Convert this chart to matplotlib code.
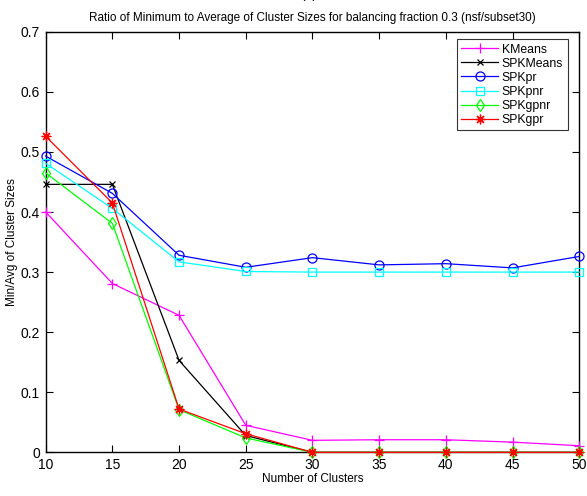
import matplotlib
matplotlib.use("Agg")
import matplotlib.pyplot as plt

plt.rcParams['font.family'] = ['Liberation Sans', 'DejaVu Sans']

clusters = [10, 15, 20, 25, 30, 35, 40, 45, 50]
kmeans = [0.400, 0.281, 0.228, 0.045, 0.020, 0.021, 0.021, 0.017, 0.011]
spkmeans = [0.446, 0.446, 0.153, 0.028, 0.0, 0.0, 0.0, 0.0, 0.0]
spkpr = [0.493, 0.431, 0.328, 0.308, 0.324, 0.312, 0.314, 0.307, 0.326]
spkpnr = [0.481, 0.406, 0.317, 0.301, 0.300, 0.300, 0.300, 0.300, 0.300]
spkgpnr = [0.465, 0.381, 0.071, 0.024, 0.0, 0.0, 0.0, 0.0, 0.0]
spkgpr = [0.526, 0.415, 0.072, 0.031, 0.0, 0.0, 0.0, 0.0, 0.0]

# asterisk: four crossing strokes
asterisk = (8, 2, 0)

series = [
    ("KMeans", kmeans, "#ff00ff", "+", 7),
    ("SPKMeans", spkmeans, "black", "x", 4.5),
    ("SPKpr", spkpr, "blue", "o", 6.5),
    ("SPKpnr", spkpnr, "cyan", "s", 5.5),
    ("SPKgpnr", spkgpnr, "#00ff00", "d", 6),
    ("SPKgpr", spkgpr, "red", asterisk, 7),
]

fig = plt.figure(figsize=(5.87, 4.96), dpi=100)
ax = fig.add_axes([0.0778, 0.088, 0.909, 0.848])

for name, vals, color, marker, ms in series:
    ax.plot(clusters, vals, color=color, marker=marker, markersize=ms,
            markerfacecolor='none', markeredgecolor=color, markeredgewidth=0.9,
            linewidth=0.9, label=name, clip_on=False, zorder=3)

ax.set_xlim(10, 50)
ax.set_ylim(0, 0.7)
ax.set_xticks(clusters)
ax.set_yticks([0, 0.1, 0.2, 0.3, 0.4, 0.5, 0.6, 0.7])
ax.set_yticklabels(["0", "0.1", "0.2", "0.3", "0.4", "0.5", "0.6", "0.7"])
ax.tick_params(direction='in', top=True, right=True, length=5, width=0.8,
               labelsize=10)
ax.tick_params(axis='x', pad=4)
ax.tick_params(axis='y', pad=4)
for sp in ax.spines.values():
    sp.set_linewidth(1.0)

ax.set_xlabel("Number of Clusters", fontsize=8.5, labelpad=1)
ax.set_ylabel("Min/Avg of Cluster Sizes", fontsize=8.5, labelpad=2)
ax.set_title("Ratio of Minimum to Average of Cluster Sizes for balancing fraction 0.3 (nsf/subset30)",
             fontsize=8.5, pad=8)
fig.text(0.525, 1.012, "(b)", ha='center', va='center', fontsize=10)

leg = ax.legend(loc='upper right', bbox_to_anchor=(0.978, 0.982),
                borderaxespad=0, fontsize=8.8, frameon=True, fancybox=False,
                edgecolor='black', borderpad=0.35, labelspacing=0.17,
                handlelength=3.05, handletextpad=0.3)
leg.get_frame().set_linewidth(0.8)

fig.savefig("out.png", dpi=100)
